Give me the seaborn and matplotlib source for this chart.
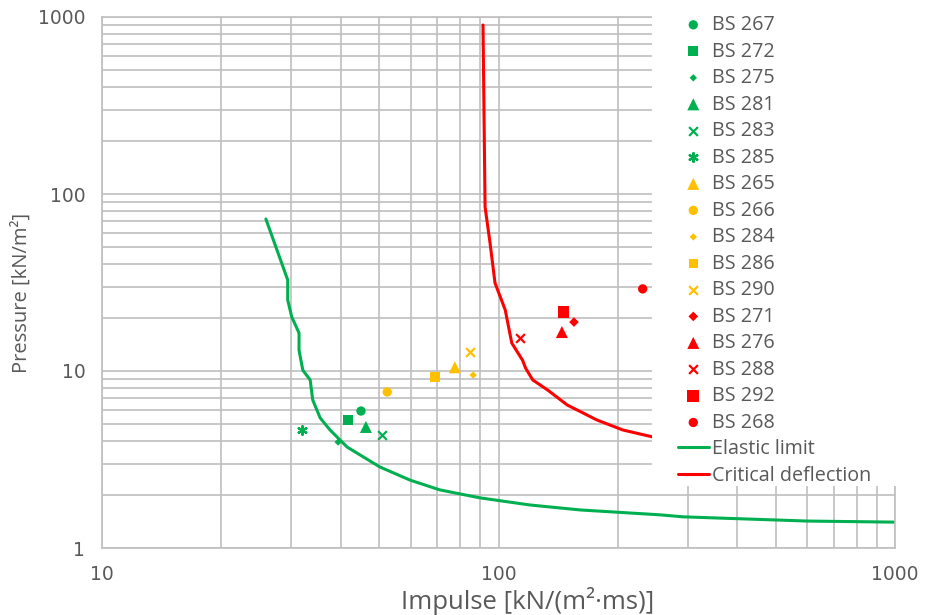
import matplotlib
matplotlib.use("Agg")
import matplotlib.pyplot as plt
import seaborn as sns
import numpy as np
import pandas as pd
from matplotlib.patches import Rectangle
from matplotlib.ticker import LogLocator, NullFormatter, FixedLocator, FixedFormatter

# ---------------- data ----------------
names = ["BS 267", "BS 272", "BS 275", "BS 281", "BS 283", "BS 285",
         "BS 265", "BS 266", "BS 284", "BS 286", "BS 290",
         "BS 271", "BS 276", "BS 288", "BS 292", "BS 268"]
groups = ["green"] * 6 + ["orange"] * 5 + ["red"] * 5
impulse = [45.0, 41.7, 39.4, 46.3, 50.8, 31.9,
           77.6, 52.4, 86.3, 69.2, 84.7,
           155, 144.5, 113, 146, 231]
pressure = [5.94, 5.29, 3.97, 4.83, 4.35, 4.64,
            10.5, 7.61, 9.49, 9.25, 12.8,
            18.9, 16.6, 15.4, 21.5, 29.1]

elastic_x = [25.9, 29.4, 29.4, 30.1, 31.4, 31.4, 32.1, 33.5, 34.0, 35.5, 37.6,
             41.5, 50.2, 59.8, 71.1, 89.8, 120, 161, 255, 292, 600, 1000]
elastic_y = [72.2, 32.7, 25.2, 20.2, 16.4, 13.1, 10.1, 8.9, 6.86, 5.43, 4.64,
             3.72, 2.87, 2.42, 2.13, 1.92, 1.75, 1.64, 1.54, 1.50, 1.42, 1.40]

critical_x = [91.4, 92.5, 95.2, 98.0, 104, 108, 115, 117, 122, 133, 149, 177, 206, 245]
critical_y = [901, 84.5, 52.9, 31.4, 22.1, 14.4, 11.5, 10.4, 8.9, 7.81, 6.43, 5.29, 4.64, 4.24]

x_ticks = [10, 100, 1000]
y_ticks = [1, 10, 100, 1000]
x_label = "Impulse [kN/(m²·ms)]"
y_label = "Pressure [kN/m²]"

# ---------------- styles ----------------
palette = {"green": "#00B050", "orange": "#FFC000", "red": "#FF0000"}
marker_style = {
    "BS 267": ("o", 45), "BS 272": ("s", 50), "BS 275": ("D", 14),
    "BS 281": ("^", 75), "BS 283": ("x", 40), "BS 285": ((6, 2, 0), 40),
    "BS 265": ("^", 75), "BS 266": ("o", 45), "BS 284": ("D", 14),
    "BS 286": ("s", 45), "BS 290": ("x", 40),
    "BS 271": ("D", 24), "BS 276": ("^", 75), "BS 288": ("x", 40),
    "BS 292": ("s", 70), "BS 268": ("o", 45),
}

sns.set_theme(style="white")
plt.rcParams["font.family"] = ["Open Sans", "DejaVu Sans"]
text_color = "#595959"
grid_color = "#BFBFBF"

fig = plt.figure(figsize=(9.27, 6.15), dpi=100)
ax = fig.add_axes([102 / 927, 1 - 548 / 615, (895 - 102) / 927, (548 - 17) / 615])
ax.set_xscale("log")
ax.set_yscale("log")

df = pd.DataFrame({"name": names, "group": groups, "impulse": impulse, "pressure": pressure})
for _, row in df.iterrows():
    m, s = marker_style[row["name"]]
    sub = df[df["name"] == row["name"]]
    is_line_marker = m == "x" or isinstance(m, tuple)
    sns.scatterplot(data=sub, x="impulse", y="pressure", ax=ax,
                    color=palette[row["group"]], marker=m, s=s,
                    linewidth=1.6 if is_line_marker else 0,
                    edgecolor=palette[row["group"]] if is_line_marker else "none",
                    label=row["name"], zorder=4)

sns.lineplot(x=elastic_x, y=elastic_y, sort=False, estimator=None, ax=ax,
             color=palette["green"], lw=2.2, label="Elastic limit", zorder=2)
sns.lineplot(x=critical_x, y=critical_y, sort=False, estimator=None, ax=ax,
             color=palette["red"], lw=2.2, label="Critical deflection", zorder=2)

ax.set_xlim(10, 1000)
ax.set_ylim(1, 1000)
ax.xaxis.set_major_locator(FixedLocator(x_ticks))
ax.xaxis.set_major_formatter(FixedFormatter([str(v) for v in x_ticks]))
ax.yaxis.set_major_locator(FixedLocator(y_ticks))
ax.yaxis.set_major_formatter(FixedFormatter([str(v) for v in y_ticks]))
ax.xaxis.set_minor_locator(LogLocator(base=10, subs=np.arange(2, 10)))
ax.yaxis.set_minor_locator(LogLocator(base=10, subs=np.arange(2, 10)))
ax.xaxis.set_minor_formatter(NullFormatter())
ax.yaxis.set_minor_formatter(NullFormatter())
ax.set_axisbelow(True)
ax.grid(True, which="both", color=grid_color, lw=1.2)
ax.tick_params(which="both", length=0)
ax.tick_params(axis="x", pad=12, labelsize=13.5, labelcolor=text_color)
ax.tick_params(axis="y", pad=12, labelsize=13.5, labelcolor=text_color)
for lab in ax.get_xticklabels() + ax.get_yticklabels():
    lab.set_family("DejaVu Sans")
for sp in ax.spines.values():
    sp.set_color(grid_color)
    sp.set_linewidth(1.2)

ax.set_xlabel(x_label, fontsize=18.5, color=text_color)
ax.set_ylabel(y_label, fontsize=14.5, color=text_color)
ax.xaxis.set_label_coords(0.537, -0.073)
ax.yaxis.set_label_coords(-0.088, 0.48)

# white panel behind the legend (hides grid there)
ax.add_patch(Rectangle((652 / 927, 1 - 486 / 615), (927 - 652) / 927, (486 - 8) / 615,
                       transform=fig.transFigure, facecolor="white", edgecolor="none",
                       zorder=3, clip_on=False))

handles, labels = ax.get_legend_handles_labels()
if ax.get_legend() is not None:
    ax.get_legend().remove()
leg = fig.legend(handles, labels, loc="upper left",
                 bbox_to_anchor=(678 / 927, 1 - 15 / 615),
                 frameon=False, fontsize=14.2, labelspacing=0.33,
                 handlelength=1.55, handletextpad=0.15, borderpad=0,
                 borderaxespad=0, labelcolor=text_color)

fig.savefig("out.png", dpi=100)
